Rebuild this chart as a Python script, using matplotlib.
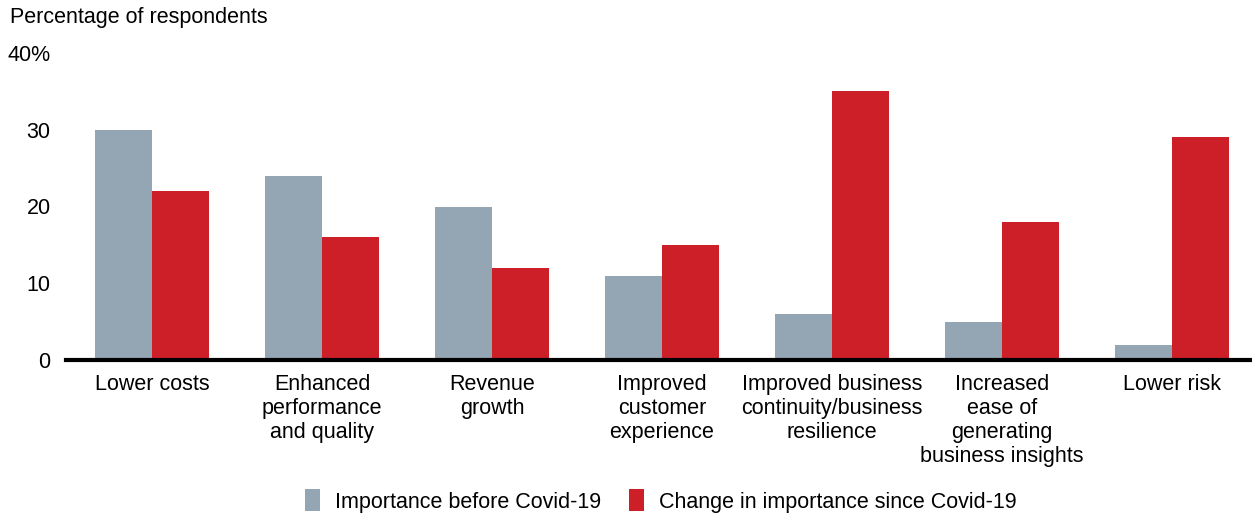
import matplotlib
matplotlib.use("Agg")
import matplotlib.pyplot as plt
from matplotlib.patches import Patch
import numpy as np

plt.rcParams['font.family'] = ['Liberation Sans', 'DejaVu Sans']

categories = ["Lower costs",
              "Enhanced\nperformance\nand quality",
              "Revenue\ngrowth",
              "Improved\ncustomer\nexperience",
              "Improved business\ncontinuity/business\nresilience",
              "Increased\nease of\ngenerating\nbusiness insights",
              "Lower risk"]
before = [30, 24, 20, 11, 6, 5, 2]
change = [22, 16, 12, 15, 35, 18, 29]
series_names = ["Importance before Covid-19", "Change in importance since Covid-19"]
yticks = [0, 10, 20, 30, 40]
ytick_labels = ["0", "10", "20", "30", "40%"]

gray = "#94a5b4"
red = "#cc1f27"
fs = 15.5

W, H = 1252, 517
fig = plt.figure(figsize=(W / 100, H / 100), dpi=100)
ax = fig.add_axes([66 / W, 157 / H, (W - 66) / W, (464 - 157) / H])

x = np.arange(len(categories))
w = 0.335
ax.bar(x - w / 2, before, width=w, color=gray)
ax.bar(x + w / 2, change, width=w, color=red)

ax.set_xlim(-0.506, len(categories) - 0.53)
ax.set_ylim(0, 40)

for s in ["top", "right", "left"]:
    ax.spines[s].set_visible(False)
ax.spines["bottom"].set_linewidth(3)
ax.spines["bottom"].set_zorder(5)

ax.set_yticks(yticks)
ax.set_yticklabels(ytick_labels)
ax.tick_params(axis="y", length=0, pad=11, labelsize=fs)
ax.set_xticks(x)
ax.set_xticklabels(categories, linespacing=1.2, va="top")
ax.tick_params(axis="x", length=0, pad=10, labelsize=fs)

fig.text(10 / W, 1 - 18 / H, "Percentage of respondents", fontsize=fs, va="center", ha="left")

handles = [Patch(facecolor=gray), Patch(facecolor=red)]
fig.legend(handles, series_names, loc="center", bbox_to_anchor=(661 / W, 1 - 501 / H),
           ncol=2, frameon=False, fontsize=fs, handlelength=0.7, handleheight=1.2,
           handletextpad=0.7, columnspacing=1.3)

fig.savefig("out.png", dpi=100)
